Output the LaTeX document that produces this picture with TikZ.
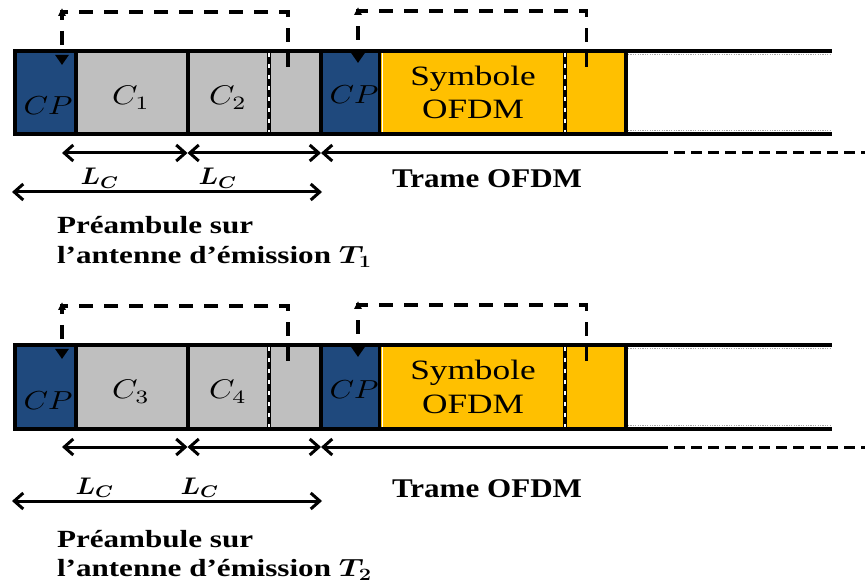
\documentclass[tikz,border=0pt]{standalone}
\usepackage{fontspec}
\setmainfont{Liberation Serif}
\usetikzlibrary{arrows.meta}
\definecolor{cpblue}{RGB}{31,73,125}
\definecolor{cgray}{RGB}{191,191,191}
\definecolor{ofdmyel}{RGB}{255,192,0}
\begin{document}
\begin{tikzpicture}[x=1pt,y=-1pt,
  blk/.style={inner sep=0pt, outer sep=0pt, anchor=north west, minimum height=83.5pt, draw=none},
  frm/.style={line width=4pt, line join=miter},
  sepline/.style={line width=3.5pt},
  wdash/.style={white, line width=1.6pt, dash pattern=on 4pt off 7pt},
  endline/.style={gray!70, line width=0.8pt, dash pattern=on 1.2pt off 1.2pt},
  fb/.style={line width=3.5pt, dash pattern=on 14pt off 11pt, -{Triangle[length=10pt,width=13pt]}},
  dim/.style={line width=3pt},
  barb/.tip={Straight Barb[length=9pt,width=16pt]},
  txt/.style={inner sep=0pt, outer sep=0pt},
]
\useasboundingbox (0,0) rectangle (865,585);
\foreach \r/\dy/\ca/\cb/\e/\pe/\lx/\ly/\t/\cpy/\cpyy in
  {a/0/1/2/0/0/100/218/1/115/104, b/294/3/4/15/19/95/200/2/115/104}{
\begin{scope}[yshift=-\dy pt]
  % blocks
  \node[blk, fill=cpblue,  minimum width=61pt]    (cpA\r) at (14.5,51) {};
  \node[blk, fill=cgray,   minimum width=112pt]   (ca\r)  at (75.5,51) {};
  \node[blk, fill=cgray,   minimum width=133pt]   (cb\r)  at (187.5,51) {};
  \node[blk, fill=cpblue,  minimum width=59pt]    (cpB\r) at (320.5,51) {};
  \node[blk, fill=ofdmyel, minimum width=246.5pt] (sym\r) at (379.5,51) {};
  \draw[white, line width=1pt] (382,53) -- (382,132.5);
  % frame
  \draw[frm] (831.5,51) -- (14.5,51) -- (14.5,134.5) -- (831.5,134.5);
  \foreach \xx in {75.5,187.5,320.5,626}{\draw[frm] (\xx,51) -- (\xx,134.5);}
  \draw[sepline] (379.5,51) -- (379.5,134.5);
  \foreach \xx in {269,565}{\draw[sepline] (\xx,53) -- (\xx,132.5); \draw[wdash] (\xx,53) -- (\xx,132.5);}
  \draw[endline] (628,54.6) -- (831.5,54.6);
  \draw[endline] (628,130.9) -- (831.5,130.9);
  % labels in blocks
  \node[txt, anchor=base] (cpAt\r) at (48,\cpy) {\scalebox{3.12}[2.6]{$CP$}};
  \node[txt, anchor=base] (caT\r) at (131,105) {\scalebox{3.25}[2.7]{$C_{\ca}$}};
  \node[txt, anchor=base] (cbT\r) at (228,105) {\scalebox{3.25}[2.7]{$C_{\cb}$}};
  \node[txt, anchor=base] (cpBt\r) at (354,\cpyy) {\scalebox{3.12}[2.6]{$CP$}};
  \node[txt, anchor=base] (symT\r) at (473,86) {\fontsize{28}{33}\selectfont\scalebox{1.26}[1]{\begin{tabular}[t]{@{}c@{}}Symbole\\OFDM\end{tabular}}};
  % feedback loops
  \coordinate (srcA\r) at (288,67);
  \coordinate (cornA\r) at (62,12);
  \coordinate (tipA\r) at (62,65);
  \draw[fb] (srcA\r) |- (cornA\r) -- (tipA\r);
  \fill (58,16) -- (62,8.5) -- (66,16) -- cycle;
  \coordinate (srcB\r) at (586.5,67);
  \coordinate (cornB\r) at (358,11);
  \coordinate (tipB\r) at (358,63);
  \draw[fb] (srcB\r) |- (cornB\r) -- (tipB\r);
  \fill (354,15) -- (358,7.5) -- (362,15) -- cycle;
  % dimension arrows
  \coordinate (d0\r) at (62,153);
  \coordinate (d1\r) at (187.5,153);
  \coordinate (d2\r) at (321,153);
  \coordinate (d3\r) at (657,153);
  \coordinate (d4\r) at (865,153);
  \draw[dim, barb-barb] (d0\r) -- (d1\r);
  \draw[dim, barb-barb] (d1\r) -- (d2\r);
  \draw[dim, barb-] (d2\r) -- (d3\r);
  \draw[dim, dash pattern=on 11pt off 6pt] (d3\r) -- (d4\r);
  \coordinate (p0\r) at (12,192+\e);
  \coordinate (p1\r) at (322,192+\e);
  \draw[dim, barb-barb] (p0\r) -- (p1\r);
  \node[txt, anchor=base] (lcA\r) at (\lx,185+\e) {\scalebox{2.6}[2.4]{\boldmath$L_C$}};
  \node[txt, anchor=base] (lcB\r) at (\ly,185+\e) {\scalebox{2.6}[2.4]{\boldmath$L_C$}};
  \node[txt, anchor=base] (trame\r) at (487,188+\e) {\fontsize{27}{32}\selectfont\scalebox{1.15}[1]{\bfseries Trame OFDM}};
  \node[txt, anchor=base west] (pre\r) at (57,234+\pe) {\fontsize{24.7}{29.5}\selectfont\scalebox{1.26}[1]{\bfseries\begin{tabular}[t]{@{}l@{}}Préambule sur\\l’antenne d’émission {\boldmath$T_{\t}$}\end{tabular}}};
\end{scope}
}
\end{tikzpicture}
\end{document}
